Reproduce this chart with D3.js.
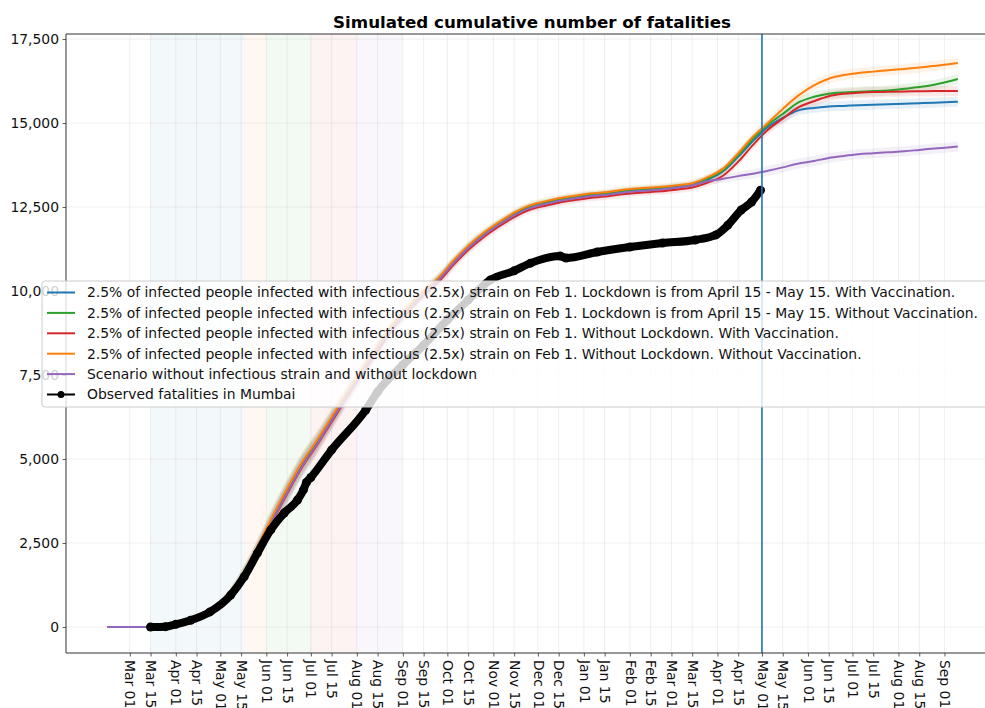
<!DOCTYPE html>
<html>
<head>
<meta charset="utf-8">
<script src="https://cdn.jsdelivr.net/npm/d3@7"></script>
<style>
  body { margin: 0; background: #fff; }
  svg { font-family: "DejaVu Sans", sans-serif; }
</style>
</head>
<body>
<div id="chart"></div>
<script>
// ---- data ----
const simDates = ["2020-02-15","2020-03-15","2020-03-25","2020-04-05","2020-04-15","2020-04-25","2020-05-05","2020-05-15","2020-05-25","2020-06-05",
  "2020-06-15","2020-06-25","2020-07-05","2020-07-15","2020-07-25","2020-08-05","2020-08-15","2020-08-25","2020-09-05","2020-09-15",
  "2020-09-25","2020-10-05","2020-10-15","2020-10-25","2020-11-05","2020-11-15","2020-11-25","2020-12-05","2020-12-15","2020-12-25",
  "2021-01-05","2021-01-15","2021-01-25","2021-02-05","2021-02-15","2021-02-25","2021-03-05","2021-03-15","2021-03-25","2021-04-05",
  "2021-04-15","2021-04-25","2021-05-05","2021-05-15","2021-05-25","2021-06-05","2021-06-15","2021-06-25","2021-07-05","2021-07-15",
  "2021-07-25","2021-08-05","2021-08-15","2021-08-25","2021-09-05","2021-09-10"];

const lockdownVacc = [0,0,20,95,235,480,830,1450,2230,3200, 4040,4820,5480,6180,6880,7630,8280,8930,9480,9930,
  10340,10840,11290,11660,12000,12270,12480,12600,12700,12770, 12840,12880,12940,12990,13020,13050,13090,13150,13310,13570,
  14000,14470,14880,15150,15370,15450,15490,15510,15530,15545, 15560,15575,15590,15605,15625,15635];
const lockdownNoVacc = [0,0,20,100,240,490,840,1470,2260,3230, 4070,4850,5510,6210,6910,7660,8310,8960,9510,9960,
  10370,10870,11320,11690,12030,12300,12510,12630,12730,12800, 12870,12910,12970,13020,13050,13080,13120,13180,13340,13600,
  14050,14530,14950,15270,15600,15780,15870,15910,15930,15950, 15970,16020,16070,16140,16250,16310];
const noLockdownVacc = [0,0,15,85,215,450,790,1390,2160,3120, 3960,4750,5400,6100,6810,7560,8210,8860,9410,9870,
  10270,10770,11220,11590,11930,12200,12410,12530,12630,12700, 12770,12810,12870,12920,12950,12980,13020,13080,13220,13440,
  13850,14350,14800,15130,15450,15650,15800,15870,15900,15920, 15930,15940,15945,15950,15950,15950];
const noLockdownNoVacc = [0,0,20,100,250,500,860,1500,2300,3280, 4120,4900,5550,6250,6950,7700,8350,9000,9550,10000,
  10400,10900,11350,11720,12060,12330,12540,12660,12760,12830, 12900,12940,13000,13050,13080,13110,13150,13210,13380,13650,
  14100,14600,15000,15420,15800,16120,16320,16430,16490,16530, 16570,16610,16650,16700,16760,16790];
const noStrain = [0,0,15,85,220,460,800,1410,2190,3150, 3990,4780,5430,6140,6840,7590,8250,8900,9450,9910,
  10320,10820,11270,11640,11980,12250,12460,12580,12680,12750, 12820,12860,12920,12970,13000,13040,13080,13140,13270,13340,
  13420,13490,13580,13680,13790,13870,13960,14020,14070,14100, 14130,14160,14200,14240,14280,14300];
// half width of the shaded uncertainty band around each scenario
const bandHalfWidth = [0,0,10,30,60,100,150,200,250,300, 300,300,280,260,240,220,200,190,180,170,
  160,150,140,130,120,120,110,110,100,100, 100,100,100,100,100,100,100,100,110,120,
  130,140,150,150,150,150,150,150,150,150, 150,150,150,150,150,150];

const obsDates = ["2020-03-15","2020-03-25","2020-04-01","2020-04-11","2020-04-24","2020-05-08","2020-05-17","2020-05-26","2020-06-04","2020-06-13",
  "2020-06-22","2020-06-26","2020-06-28","2020-07-01","2020-07-15","2020-08-07","2020-08-15","2020-09-01","2020-09-15","2020-10-01",
  "2020-10-15","2020-10-30","2020-11-15","2020-11-26","2020-12-16","2020-12-20","2021-01-10","2021-02-01","2021-02-23","2021-03-17",
  "2021-03-31","2021-04-08","2021-04-17","2021-04-24","2021-04-30"];
const obsValues = [0,10,80,200,450,950,1490,2200,2890,3390,
  3780,4080,4300,4450,5270,6460,7000,7800,8390,9140,
  9730,10330,10600,10830,11040,10980,11160,11310,11430,11520,
  11670,11960,12410,12650,13000];

const scenarioNames = [
  "2.5% of infected people infected with infectious (2.5x) strain on Feb 1. Lockdown is from April 15 - May 15. With Vaccination.",
  "2.5% of infected people infected with infectious (2.5x) strain on Feb 1. Lockdown is from April 15 - May 15. Without Vaccination.",
  "2.5% of infected people infected with infectious (2.5x) strain on Feb 1. Without Lockdown. With Vaccination.",
  "2.5% of infected people infected with infectious (2.5x) strain on Feb 1. Without Lockdown. Without Vaccination.",
  "Scenario without infectious strain and without lockdown"
];
const observedName = "Observed fatalities in Mumbai";
const scenarioColors = ["#1f77b4", "#2ca02c", "#d62728", "#ff7f0e", "#9467bd"];

// lockdown / unlock phases shaded in the background
const phaseStarts = ["2020-03-15", "2020-05-18", "2020-06-01", "2020-07-01", "2020-08-01"];
const phaseEnds   = ["2020-05-18", "2020-06-01", "2020-07-01", "2020-08-01", "2020-09-01"];
const phaseColors = ["#1f77b4", "#ff7f0e", "#2ca02c", "#d62728", "#9467bd"];
const markerDate = "2021-05-01";

const yTicks = [0, 2500, 5000, 7500, 10000, 12500, 15000, 17500];
const xTickDates = ["2020-03-01","2020-03-15","2020-04-01","2020-04-15","2020-05-01","2020-05-15","2020-06-01","2020-06-15",
  "2020-07-01","2020-07-15","2020-08-01","2020-08-15","2020-09-01","2020-09-15","2020-10-01","2020-10-15","2020-11-01","2020-11-15",
  "2020-12-01","2020-12-15","2021-01-01","2021-01-15","2021-02-01","2021-02-15","2021-03-01","2021-03-15","2021-04-01","2021-04-15",
  "2021-05-01","2021-05-15","2021-06-01","2021-06-15","2021-07-01","2021-07-15","2021-08-01","2021-08-15","2021-09-01"];

// ---- chart ----
const parse = d3.timeParse("%Y-%m-%d");
const W = 985, H = 708;
const margin = {top: 34, left: 66, bottom: 55};
const plotBottom = H - margin.bottom;
const plotRight = 989;
const fontSize = "13.9px";

const svg = d3.select("#chart").append("svg")
    .attr("width", W)
    .attr("height", H);

const x = d3.scaleTime()
    .domain([parse("2020-01-18"), parse("2021-10-01")])
    .range([margin.left, plotRight]);

const y = d3.scaleLinear()
    .domain([-774, 17650])
    .range([plotBottom, margin.top]);

const plot = svg.append("g");

// phase shading
phaseStarts.forEach((s, i) => {
  plot.append("rect")
      .attr("x", x(parse(s)))
      .attr("y", margin.top)
      .attr("width", x(parse(phaseEnds[i])) - x(parse(s)))
      .attr("height", plotBottom - margin.top)
      .attr("fill", phaseColors[i])
      .attr("fill-opacity", 0.055);
});

// grid
plot.append("g").selectAll("line")
  .data(xTickDates.map(parse))
  .join("line")
    .attr("x1", d => x(d)).attr("x2", d => x(d))
    .attr("y1", margin.top).attr("y2", plotBottom)
    .attr("stroke", "#b0b0b0").attr("stroke-opacity", 0.25).attr("stroke-width", 0.8);
plot.append("g").selectAll("line")
  .data(yTicks)
  .join("line")
    .attr("x1", margin.left).attr("x2", plotRight)
    .attr("y1", d => y(d)).attr("y2", d => y(d))
    .attr("stroke", "#b0b0b0").attr("stroke-opacity", 0.25).attr("stroke-width", 0.8);

// scenarios
const series = [lockdownVacc, lockdownNoVacc, noLockdownVacc, noLockdownNoVacc, noStrain];
const dates = simDates.map(parse);

const band = d3.area()
    .x((d, i) => x(dates[i]))
    .y0((d, i) => y(d - bandHalfWidth[i]))
    .y1((d, i) => y(d + bandHalfWidth[i]))
    .curve(d3.curveMonotoneX);
const line = d3.line()
    .x((d, i) => x(dates[i]))
    .y(d => y(d))
    .curve(d3.curveMonotoneX);

series.forEach((s, i) => {
  plot.append("path")
      .datum(s)
      .attr("d", band)
      .attr("fill", scenarioColors[i])
      .attr("fill-opacity", 0.1);
});
series.forEach((s, i) => {
  plot.append("path")
      .datum(s)
      .attr("d", line)
      .attr("fill", "none")
      .attr("stroke", scenarioColors[i])
      .attr("stroke-width", 2);
});

// observed
const obs = obsDates.map((d, i) => ({date: parse(d), value: obsValues[i]}));
plot.append("path")
    .datum(obs)
    .attr("d", d3.line().x(d => x(d.date)).y(d => y(d.value)).curve(d3.curveMonotoneX))
    .attr("fill", "none")
    .attr("stroke", "#000")
    .attr("stroke-width", 8)
    .attr("stroke-linejoin", "round")
    .attr("stroke-linecap", "round");
plot.append("g").selectAll("circle")
  .data(obs)
  .join("circle")
    .attr("cx", d => x(d.date))
    .attr("cy", d => y(d.value))
    .attr("r", 4.5)
    .attr("fill", "#000");

// marker line
plot.append("line")
    .attr("x1", x(parse(markerDate))).attr("x2", x(parse(markerDate)))
    .attr("y1", margin.top).attr("y2", plotBottom)
    .attr("stroke", "#1f77b4").attr("stroke-width", 1.6);

// axes
const yAxis = svg.append("g")
    .attr("transform", `translate(${margin.left},0)`)
    .call(d3.axisLeft(y).tickValues(yTicks).tickFormat(d3.format(",")).tickSize(3.5).tickPadding(3.5));
const xAxis = svg.append("g")
    .attr("transform", `translate(0,${plotBottom})`)
    .call(d3.axisBottom(x).tickValues(xTickDates.map(parse)).tickFormat(d3.timeFormat("%b %d")).tickSize(3.5).tickPadding(3.5));

[xAxis, yAxis].forEach(a => {
  a.select(".domain").remove();
  a.selectAll(".tick line").attr("stroke", "#333").attr("stroke-width", 0.8);
  a.selectAll(".tick text").attr("fill", "#111").style("font-size", fontSize).style("font-family", "DejaVu Sans");
});
xAxis.selectAll(".tick text")
    .attr("transform", "rotate(90)")
    .attr("y", 0)
    .attr("x", 7)
    .attr("dy", "0.35em")
    .style("text-anchor", "start");

// spines: left, bottom, top
svg.append("path")
    .attr("d", `M${plotRight},${margin.top}H${margin.left}V${plotBottom}H${plotRight}`)
    .attr("fill", "none")
    .attr("stroke", "#333")
    .attr("stroke-width", 1);

// title
svg.append("text")
    .attr("x", 532)
    .attr("y", 28)
    .attr("text-anchor", "middle")
    .style("font-size", "16.7px")
    .style("font-weight", "bold")
    .text("Simulated cumulative number of fatalities");

// legend
const legend = svg.append("g").attr("transform", "translate(42,281)");
legend.append("rect")
    .attr("x", 0).attr("y", 0)
    .attr("width", 950).attr("height", 126)
    .attr("rx", 3)
    .attr("fill", "#fff").attr("fill-opacity", 0.8)
    .attr("stroke", "#ccc").attr("stroke-width", 1);

const legendItems = scenarioNames.map((n, i) => ({name: n, color: scenarioColors[i]}))
    .concat([{name: observedName, color: "#000", marker: true}]);
legendItems.forEach((item, i) => {
  const row = legend.append("g").attr("transform", `translate(0,${11.5 + i * 20.4})`);
  row.append("line")
      .attr("x1", 5).attr("x2", 33)
      .attr("stroke", item.color).attr("stroke-width", 2);
  if (item.marker) {
    row.append("circle").attr("cx", 19).attr("r", 3.5).attr("fill", "#000");
  }
  row.append("text")
      .attr("x", 45)
      .attr("dy", "0.35em")
      .style("font-size", fontSize)
      .attr("fill", "#111")
      .text(item.name);
});
</script>
</body>
</html>
